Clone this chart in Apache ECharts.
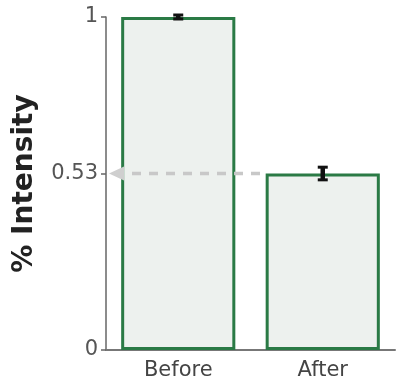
<!DOCTYPE html>
<html>
<head>
<meta charset="utf-8">
<script src="https://cdn.jsdelivr.net/npm/echarts@6/dist/echarts.min.js"></script>
<style>html,body{margin:0;padding:0;background:#fff}#c{width:396px;height:382px}</style>
</head>
<body>
<div id="c"></div>
<script>
const categories = ['Before', 'After'];
const values = [1, 0.53];
const errors = [0.009, 0.022];
const tickValues = [0, 0.53, 1];
const refValue = 0.53;
const refCategoryIndex = 1;
const BAR_FRAC = 0.79;

const chart = echarts.init(document.getElementById('c'));
chart.setOption({
  animation: false,
  grid: { left: 106, right: 1, top: 17, bottom: 32 },
  xAxis: {
    type: 'category',
    data: categories,
    axisLine: { lineStyle: { color: '#777', width: 2 } },
    axisTick: { show: false },
    axisLabel: { fontFamily: 'DejaVu Sans', fontSize: 21, color: '#444', margin: 10 }
  },
  yAxis: {
    type: 'value', min: 0, max: 1,
    name: '% Intensity', nameLocation: 'middle', nameGap: 67,
    nameTextStyle: { fontFamily: 'DejaVu Sans', fontWeight: 'bold', fontSize: 28, color: '#222' },
    axisLine: { show: true, lineStyle: { color: '#666', width: 1.5 } },
    axisTick: { show: true, customValues: tickValues, length: 5, lineStyle: { color: '#666', width: 1.5 } },
    axisLabel: { customValues: tickValues, fontFamily: 'DejaVu Sans', fontSize: 21, color: '#555', margin: 8 },
    splitLine: { show: false }
  },
  series: [
    {
      type: 'bar', data: values, barWidth: (BAR_FRAC * 100) + '%', z: 2,
      itemStyle: { color: '#edf1ee', borderColor: '#2a7a45', borderWidth: 3 }
    },
    {
      type: 'custom', z: 3,
      data: [[refCategoryIndex, refValue]],
      renderItem: function (params, api) {
        const band = api.size([1, 0])[0];
        const y = api.coord([0, api.value(1)])[1];
        const x0 = api.coord([0, 0])[0] - band / 2;
        const x1 = api.coord([api.value(0), 0])[0] - band * BAR_FRAC / 2;
        return { type: 'group', children: [
          { type: 'polygon', shape: { points: [[x0 + 3, y], [x0 + 18, y - 7], [x0 + 18, y + 7]] }, style: { fill: '#cfcfcf' } },
          { type: 'line', shape: { x1: x0 + 26, y1: y, x2: x1, y2: y }, style: { stroke: '#c8c8c8', lineWidth: 3.5, lineDash: [9, 8] } }
        ] };
      }
    },
    {
      type: 'custom', z: 4,
      data: values.map((v, i) => [i, v, errors[i]]),
      renderItem: function (params, api) {
        const i = api.value(0), v = api.value(1), e = api.value(2);
        const top = api.coord([i, v + e]);
        const bot = api.coord([i, v - e]);
        const hw = 5;
        return { type: 'group', children: [
          { type: 'line', shape: { x1: top[0], y1: top[1], x2: bot[0], y2: bot[1] }, style: { stroke: '#111', lineWidth: 4.5 } },
          { type: 'line', shape: { x1: top[0] - hw, y1: top[1] + 1, x2: top[0] + hw, y2: top[1] + 1 }, style: { stroke: '#111', lineWidth: 3 } },
          { type: 'line', shape: { x1: bot[0] - hw, y1: bot[1] - 1, x2: bot[0] + hw, y2: bot[1] - 1 }, style: { stroke: '#111', lineWidth: 3 } }
        ] };
      }
    }
  ]
});
</script>
</body>
</html>
